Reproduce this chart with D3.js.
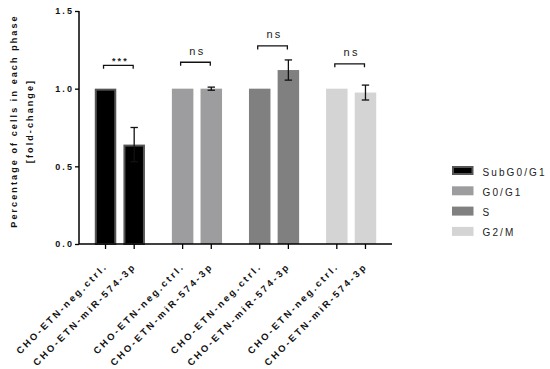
<!DOCTYPE html>
<html>
<head>
<meta charset="utf-8">
<script src="https://cdn.jsdelivr.net/npm/d3@7"></script>
<style>
  body { margin: 0; background: #fff; }
  svg { font-family: "Liberation Sans", Arial, sans-serif; }
  .axisText { font-weight: bold; font-size: 9px; letter-spacing: 2.1px; }
  .xlabel { font-size: 9.5px; letter-spacing: 2.4px; }
</style>
</head>
<body>
<div id="chart"></div>
<script>
// data
var phases = ["SubG0/G1", "G0/G1", "S", "G2/M"];
var conditions = ["CHO-ETN-neg.ctrl.", "CHO-ETN-miR-574-3p"];
var ctrlValues = [1.0, 1.0, 1.0, 1.0];
var mirValues = [0.64, 1.0, 1.12, 0.975];
var mirErrors = [0.11, 0.01, 0.065, 0.048];
var sigLabels = ["***", "ns", "ns", "ns"];
var sigLevels = [1.15, 1.17, 1.275, 1.16];
var yTicks = [0.0, 0.5, 1.0, 1.5];
var phaseColors = ["#000000", "#9d9d9f", "#808080", "#d4d4d4"];

var svgWidth = 550;
var svgHeight = 369;

var svg = d3.select("#chart")
  .append("svg")
  .attr("width", svgWidth)
  .attr("height", svgHeight);

var x0 = d3.scaleBand()
  .domain(phases)
  .range([79, 392])
  .paddingInner(0)
  .paddingOuter(0.03);

var x1 = d3.scaleBand()
  .domain(conditions)
  .range([0, x0.bandwidth()])
  .paddingInner(0.25)
  .paddingOuter(0.47);

var y = d3.scaleLinear()
  .domain([0, 1.5])
  .range([244, 11]);

// build table of bars
var bars = [];
phases.forEach(function(p, i) {
  bars.push({phase: p, cond: conditions[0], value: ctrlValues[i], err: 0, idx: i});
  bars.push({phase: p, cond: conditions[1], value: mirValues[i], err: mirErrors[i], idx: i});
});

function barX(d) { return x0(d.phase) + x1(d.cond); }
function barC(d) { return barX(d) + x1.bandwidth() / 2; }

// bars
svg.selectAll(".bar")
  .data(bars)
  .enter()
  .append("rect")
  .attr("class", "bar")
  .attr("x", d => barX(d) + (d.idx == 0 ? 1 : 0))
  .attr("width", d => x1.bandwidth() - (d.idx == 0 ? 2 : 0))
  .attr("y", d => y(d.value) + (d.idx == 0 ? 1 : 0))
  .attr("height", d => y(0) - y(d.value) - (d.idx == 0 ? 1 : 0))
  .attr("fill", d => phaseColors[d.idx])
  .attr("stroke", d => d.idx == 0 ? "#555" : "none")
  .attr("stroke-width", 2);

// error bars
var errBars = bars.filter(d => d.err > 0);
var errG = svg.selectAll(".err")
  .data(errBars)
  .enter()
  .append("g")
  .attr("class", "err")
  .attr("stroke", "#111")
  .attr("stroke-width", 1.3);

errG.append("line")
  .attr("x1", barC).attr("x2", barC)
  .attr("y1", d => y(d.value + d.err))
  .attr("y2", d => y(d.value - d.err));
errG.append("line")
  .attr("x1", d => barC(d) - 3.7).attr("x2", d => barC(d) + 3.7)
  .attr("y1", d => y(d.value + d.err)).attr("y2", d => y(d.value + d.err));
errG.append("line")
  .attr("x1", d => barC(d) - 3.7).attr("x2", d => barC(d) + 3.7)
  .attr("y1", d => y(d.value - d.err)).attr("y2", d => y(d.value - d.err));

// significance brackets
var sigG = svg.selectAll(".sig")
  .data(phases)
  .enter()
  .append("g")
  .attr("class", "sig");

sigG.append("path")
  .attr("d", function(p, i) {
    var xa = x0(p) + x1(conditions[0]) + x1.bandwidth() / 2 - 2;
    var xb = x0(p) + x1(conditions[1]) + x1.bandwidth() / 2 - 1;
    var yy = y(sigLevels[i]);
    return "M" + xa + "," + (yy + 3.5) + "V" + yy + "H" + xb + "V" + (yy + 3.5);
  })
  .attr("fill", "none")
  .attr("stroke", "#111")
  .attr("stroke-width", 1.3);

sigG.append("text")
  .attr("class", (p, i) => i == 0 ? "axisText" : null)
  .attr("x", p => x0(p) + x0.bandwidth() / 2 + 0.5)
  .attr("y", (p, i) => y(sigLevels[i]) - (i == 0 ? 1 : 7.5))
  .attr("text-anchor", "middle")
  .style("font-size", (p, i) => i == 0 ? "9px" : "11px")
  .style("letter-spacing", (p, i) => i == 0 ? "2.1px" : "2.3px")
  .attr("fill", "#222")
  .text((p, i) => sigLabels[i]);

// axes
var leftAxis = d3.axisLeft(y).tickValues(yTicks).tickFormat(d3.format(".1f")).tickSize(4).tickPadding(1);
var yAxisG = svg.append("g")
  .attr("transform", "translate(79,0)")
  .call(leftAxis);
yAxisG.select(".domain").attr("stroke-width", 1.5).attr("d", "M0,11V244");
yAxisG.selectAll(".tick line").attr("stroke-width", 1.3);
yAxisG.selectAll("text")
  .attr("class", "axisText")
  .attr("fill", "#111");

// x axis
var tickData = bars.map(d => ({x: barC(d), label: d.cond}));
svg.append("line")
  .attr("x1", 79).attr("x2", 392)
  .attr("y1", 244).attr("y2", 244)
  .attr("stroke", "#000")
  .attr("stroke-width", 1.5);

svg.selectAll(".xtick")
  .data(tickData)
  .enter()
  .append("line")
  .attr("class", "xtick")
  .attr("x1", d => d.x).attr("x2", d => d.x)
  .attr("y1", 244).attr("y2", 249)
  .attr("stroke", "#000")
  .attr("stroke-width", 1.3);

svg.selectAll(".xlabel")
  .data(tickData)
  .enter()
  .append("text")
  .attr("class", "axisText xlabel")
  .attr("text-anchor", "end")
  .attr("fill", "#111")
  .attr("transform", d => `translate(${d.x + 2.5}, 267) rotate(-45)`)
  .text(d => d.label);

// y axis title
var yTitle = svg.append("text")
  .attr("class", "axisText")
  .attr("transform", "translate(17, 121) rotate(-90)")
  .attr("text-anchor", "middle")
  .attr("fill", "#111");
yTitle.append("tspan").attr("x", 0).attr("dy", 0).text("Percentage of cells in each phase");
yTitle.append("tspan").attr("x", 0).attr("dy", 15.5).text("[fold-change]");

// legend
var legend = svg.selectAll(".legend")
  .data(phases)
  .enter()
  .append("g")
  .attr("class", "legend")
  .attr("transform", (d, i) => `translate(452, ${166 + i * 20.3})`);

legend.append("rect")
  .attr("x", d => d == phases[0] ? 1 : 0)
  .attr("y", d => d == phases[0] ? 1 : 0)
  .attr("width", d => d == phases[0] ? 19.5 : 21.5)
  .attr("height", d => d == phases[0] ? 7 : 9)
  .attr("fill", (d, i) => phaseColors[i])
  .attr("stroke", d => d == phases[0] ? "#555" : "none")
  .attr("stroke-width", 2);

legend.append("text")
  .attr("x", 30.5)
  .attr("y", 9.5)
  .style("font-size", "10px")
  .style("letter-spacing", "2.1px")
  .attr("fill", "#222")
  .text(d => d);
</script>
</body>
</html>
